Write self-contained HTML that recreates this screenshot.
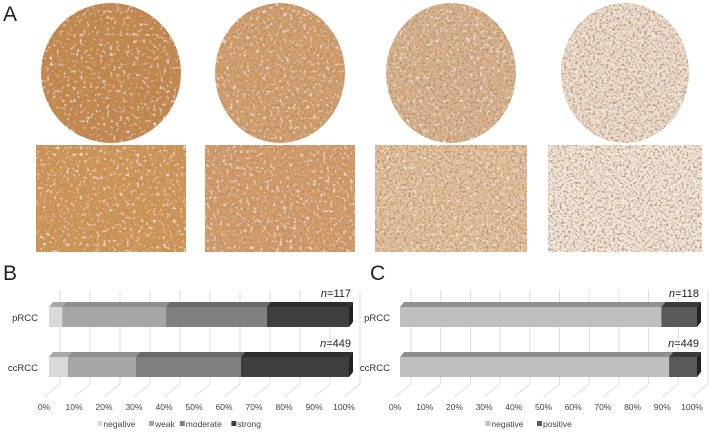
<!DOCTYPE html>
<html><head><meta charset="utf-8"><style>
html,body{margin:0;padding:0;background:#fff;}
body{width:709px;height:432px;overflow:hidden;font-family:"Liberation Sans",sans-serif;}
svg{display:block;}
</style></head><body>
<svg id="fig" width="709" height="432" viewBox="0 0 709 432" xmlns="http://www.w3.org/2000/svg">
<defs>
<filter id="tex" x="0" y="0" width="100%" height="100%">
<feTurbulence type="fractalNoise" baseFrequency="0.45" numOctaves="2" seed="3" result="n"/>
<feColorMatrix in="n" type="matrix" values="0 0 0 0 0.42  0 0 0 0 0.26  0 0 0 0 0.15  0 0 0 3 -1.35" result="m"/>
<feTurbulence type="fractalNoise" baseFrequency="0.3" numOctaves="2" seed="9" result="n2"/>
<feColorMatrix in="n2" type="matrix" values="0 0 0 0 1  0 0 0 0 1  0 0 0 0 1  0 0 0 2.5 -1.45" result="w"/>
<feComposite in="m" in2="SourceGraphic" operator="atop" result="a"/>
<feComposite in="w" in2="a" operator="atop"/>
</filter>
</defs>
<text x="3" y="21" font-size="21" fill="#222">A</text>
<g>
<ellipse cx="111" cy="73" rx="70" ry="70" fill="#c68643" filter="url(#tex)"/>
<ellipse cx="280" cy="73" rx="65" ry="70" fill="#d49e68" filter="url(#tex)"/>
<ellipse cx="451" cy="73" rx="65" ry="70" fill="#d9b28c" filter="url(#tex)"/>
<ellipse cx="625" cy="73" rx="64" ry="70" fill="#ecdccc" filter="url(#tex)"/>
<rect x="36" y="145" width="150" height="107" fill="#d4954f" filter="url(#tex)"/>
<rect x="205" y="145" width="150" height="107" fill="#d69b66" filter="url(#tex)"/>
<rect x="375" y="145" width="152" height="107" fill="#e3c09b" filter="url(#tex)"/>
<rect x="548" y="145" width="154" height="107" fill="#f1e4d6" filter="url(#tex)"/>
</g>
<text x="3" y="280" font-size="21" fill="#222">B</text>
<text x="370" y="280" font-size="21" fill="#222">C</text>
<g id="chartB"></g>
<g id="chartC"></g>
</svg>
<script>
const categories = ["pRCC", "ccRCC"];
const ticks = ["0%","10%","20%","30%","40%","50%","60%","70%","80%","90%","100%"];
const tickValues = [0,10,20,30,40,50,60,70,80,90,100];
const bSeriesNames = ["negative","weak","moderate","strong"];
const bNegative = [4.4, 6.3];
const bWeak = [34.6, 22.7];
const bModerate = [33.6, 35];
const bStrong = [27.4, 36];
const bN = ["117", "449"];
const cSeriesNames = ["negative","positive"];
const cNegative = [88, 90.6];
const cPositive = [12, 9.4];
const cN = ["118", "449"];

const NS = "http://www.w3.org/2000/svg";
function mk(tag, attrs, parent){const e=document.createElementNS(NS,tag);for(const k in attrs)e.setAttribute(k,attrs[k]);parent.appendChild(e);return e;}
const barY = [307, 357], barH = 20, dx = 4, dy = 5;

function drawChart(g, x0, width, series, fronts, tops, names, nLabels, legendCx, labelX){
  const xs = v => x0 + v * width / 100;
  tickValues.forEach((v,i)=>{
    const gx = xs(v) + 11;
    let l = mk('line',{x1:gx,y1:290,x2:gx,y2:384,stroke:'#dcdcdc','stroke-width':1},g);
     
    let f = mk('line',{x1:gx,y1:384,x2:xs(v)-5,y2:397,stroke:'#dcdcdc','stroke-width':1},g);
     
    let t = mk('text',{x:xs(v)-5,y:410,'font-size':8.5,fill:'#444','text-anchor':'middle'},g);
    t.textContent = ticks[i];
     
  });
  categories.forEach((c,ci)=>{
    const y = barY[ci];
    let acc = 0;
    series.forEach((s,si)=>{
      const a = xs(acc), b = xs(acc + s[ci]);
      acc += s[ci];
      let top = mk('polygon',{points:`${a},${y} ${b},${y} ${b+dx},${y-dy} ${a+dx},${y-dy}`,fill:tops[si]},g);
       
      let r = mk('rect',{x:a,y:y,width:Math.max(0,b-a),height:barH,fill:fronts[si]},g);
       
    });
    const e = xs(acc);
    let side = mk('polygon',{points:`${e},${y} ${e+dx},${y-dy} ${e+dx},${y+barH-dy} ${e},${y+barH}`,fill:'#222'},g);
     
    let lab = mk('text',{x:labelX,y:y+14,'font-size':9.5,fill:'#333','text-anchor':'end'},g);
    lab.textContent = c;
     
    let n = mk('text',{x:xs(100)+2,y:y-10,'font-size':11,fill:'#222','text-anchor':'end'},g);
    n.innerHTML = '<tspan font-style="italic">n</tspan>=' + nLabels[ci];
     
  });
  const widths = names.map(n => n.length*5.2 + 10);
  const total = widths.reduce((a,b)=>a+b,0);
  let lx = legendCx - total/2;
  names.forEach((nm,i)=>{
    let sq = mk('rect',{x:lx,y:421,width:5,height:5,fill:fronts[i]},g);
     
    let t = mk('text',{x:lx+6,y:427,'font-size':8.5,fill:'#444'},g);
    t.textContent = nm;
     
    lx += widths[i];
  });
}
drawChart(document.getElementById('chartB'), 49, 300, [bNegative,bWeak,bModerate,bStrong],
  ['#d9d9d9','#a6a6a6','#808080','#3f3f3f'], ['#a8a8a8','#8e8e8e','#6a6a6a','#2e2e2e'],
  bSeriesNames, bN, 185, 38);
drawChart(document.getElementById('chartC'), 400, 297, [cNegative,cPositive],
  ['#bfbfbf','#595959'], ['#8f8f8f','#3a3a3a'],
  cSeriesNames, cN, 537, 390);
</script>
</body></html>
